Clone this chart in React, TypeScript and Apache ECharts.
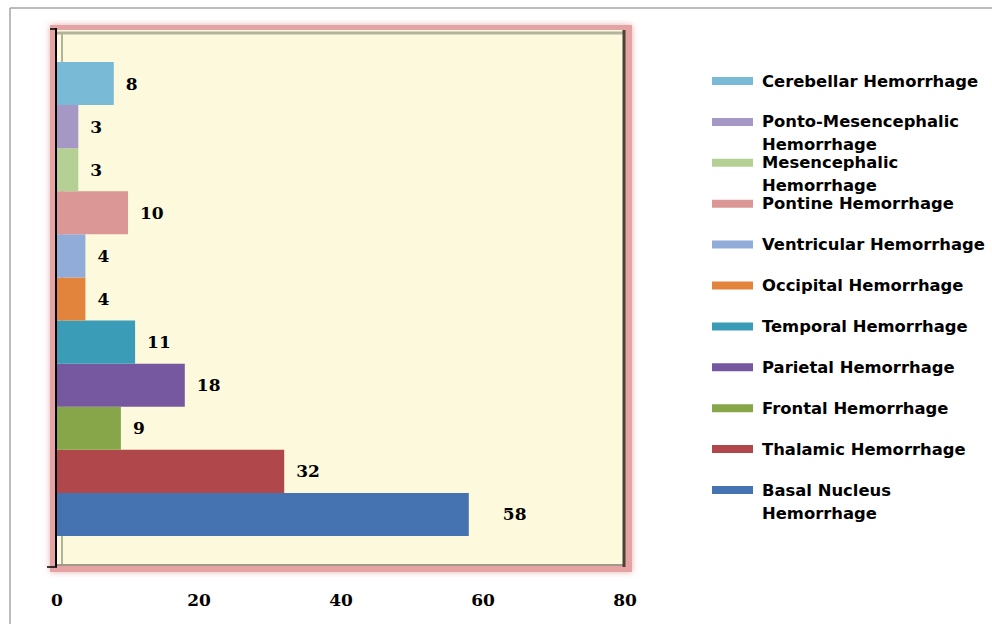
import React, { useEffect, useRef } from "react";
import * as echarts from "echarts";

// Data (bottom to top on the category axis)
const categories = [
  "Basal Nucleus Hemorrhage",
  "Thalamic Hemorrhage",
  "Frontal Hemorrhage",
  "Parietal Hemorrhage",
  "Temporal Hemorrhage",
  "Occipital Hemorrhage",
  "Ventricular Hemorrhage",
  "Pontine Hemorrhage",
  "Mesencephalic Hemorrhage",
  "Ponto-Mesencephalic Hemorrhage",
  "Cerebellar Hemorrhage",
];
const counts = [58, 32, 9, 18, 11, 4, 4, 10, 3, 3, 8];
const colors = [
  "#4573b1",
  "#b0474a",
  "#87a64a",
  "#7658a0",
  "#3b9cb8",
  "#e2843c",
  "#92acd9",
  "#da9796",
  "#b5d095",
  "#a698c4",
  "#79bbd6",
];
const xMin = 0;
const xMax = 80;
const xStep = 20;
const wrappedNames = [
  "Basal Nucleus Hemorrhage",
  "Mesencephalic Hemorrhage",
  "Ponto-Mesencephalic Hemorrhage",
];

export default function App() {
  const ref = useRef<HTMLDivElement>(null);

  useEffect(() => {
    if (!ref.current) return;
    const chart = echarts.init(ref.current, undefined, { renderer: "svg" });

    const series = categories.map((name, i) => ({
      type: "bar",
      name,
      barGap: "-100%",
      barCategoryGap: "0%",
      itemStyle: { color: colors[i] },
      label: {
        show: true,
        position: "right",
        distance: counts[i] > 50 ? 34 : 12,
        fontFamily: "DejaVu Serif",
        fontWeight: "bold",
        fontSize: 17,
        color: "#000",
      },
      data: categories.map((_, j) => (j === i ? counts[i] : "-")),
    }));

    const LH = 23;
    // one legend per series, top to bottom: Cerebellar ... Basal
    const legends = categories.map((name, i) => {
      const k = categories.length - 1 - i;
      const yc = 81 + k * 40.9;
      const wrapped = wrappedNames.includes(name);
      const boxH = wrapped ? LH * 3 : LH;
      return {
        data: [name],
        orient: "vertical",
        left: 712,
        top: yc - boxH / 2,
        itemWidth: 41,
        itemHeight: 8,
        itemGap: 0,
        padding: 0,
        selectedMode: false,
        icon: "rect",
        formatter: (n: string) =>
          wrappedNames.includes(n)
            ? "{a| }\n{a|" + n.replace(" Hemorrhage", "}\n{a|Hemorrhage}")
            : "{a|" + n + "}",
        textStyle: {
          fontFamily: "DejaVu Sans",
          fontWeight: "bold",
          fontSize: 16.4,
          lineHeight: LH,
          color: "#000",
          rich: {
            a: {
              fontFamily: "DejaVu Sans",
              fontWeight: "bold",
              fontSize: 16.4,
              lineHeight: LH,
              color: "#000",
              padding: [0, 0, 0, 4],
            },
          },
        },
      };
    });

    const option = {
      animation: false,
      backgroundColor: "#ffffff",
      grid: { left: 57, right: 367, top: 62, bottom: 88, containLabel: false },
      xAxis: {
        type: "value",
        min: xMin,
        max: xMax,
        interval: xStep,
        axisLine: { show: false },
        axisTick: { show: false },
        splitLine: { show: false },
        axisLabel: {
          margin: 55,
          fontFamily: "DejaVu Serif",
          fontWeight: "bold",
          fontSize: 17,
          color: "#000",
        },
      },
      yAxis: {
        type: "category",
        data: categories,
        axisLine: { show: false },
        axisTick: { show: false },
        axisLabel: { show: false },
        splitLine: { show: false },
      },
      legend: legends,
      graphic: [
        // outer frame lines
        { type: "line", z: -10, shape: { x1: 10, y1: 8, x2: 992, y2: 8 }, style: { stroke: "#a6a6a6", lineWidth: 1.5 } },
        { type: "line", z: -10, shape: { x1: 10, y1: 8, x2: 10, y2: 624 }, style: { stroke: "#a6a6a6", lineWidth: 1.5 } },
        // pink plot border
        {
          type: "rect",
          z: -9,
          shape: { x: 50, y: 25, width: 582, height: 547 },
          style: { fill: "#e6a3a3", shadowBlur: 6, shadowColor: "rgba(210,120,120,0.6)" },
        },
        // cream plot area
        { type: "rect", z: -8, shape: { x: 55, y: 30, width: 570, height: 536 }, style: { fill: "#fdf9dc" } },
        // bevel lines
        { type: "line", z: -7, shape: { x1: 57, y1: 33, x2: 624, y2: 33 }, style: { stroke: "#b3b39c", lineWidth: 3 } },
        { type: "line", z: -7, shape: { x1: 62, y1: 33, x2: 62, y2: 565 }, style: { stroke: "#b3b39c", lineWidth: 2 } },
        { type: "line", z: -7, shape: { x1: 57, y1: 565, x2: 625, y2: 565 }, style: { stroke: "#a09888", lineWidth: 2 } },
        { type: "line", z: -7, shape: { x1: 624, y1: 30, x2: 624, y2: 567 }, style: { stroke: "#4d4036", lineWidth: 3 } },
        // y axis line and end ticks
        { type: "line", z: 20, shape: { x1: 56, y1: 28, x2: 56, y2: 567 }, style: { stroke: "#000", lineWidth: 2 } },
        { type: "line", z: 20, shape: { x1: 50, y1: 29, x2: 57, y2: 29 }, style: { stroke: "#000", lineWidth: 1.5 } },
        { type: "line", z: 20, shape: { x1: 47, y1: 567, x2: 57, y2: 567 }, style: { stroke: "#000", lineWidth: 1.5 } },
      ],
      series,
    };

    chart.setOption(option as any);
    return () => chart.dispose();
  }, []);

  return (
    <div
      ref={ref}
      style={{ position: "fixed", left: 0, top: 0, width: 992, height: 624 }}
    />
  );
}
